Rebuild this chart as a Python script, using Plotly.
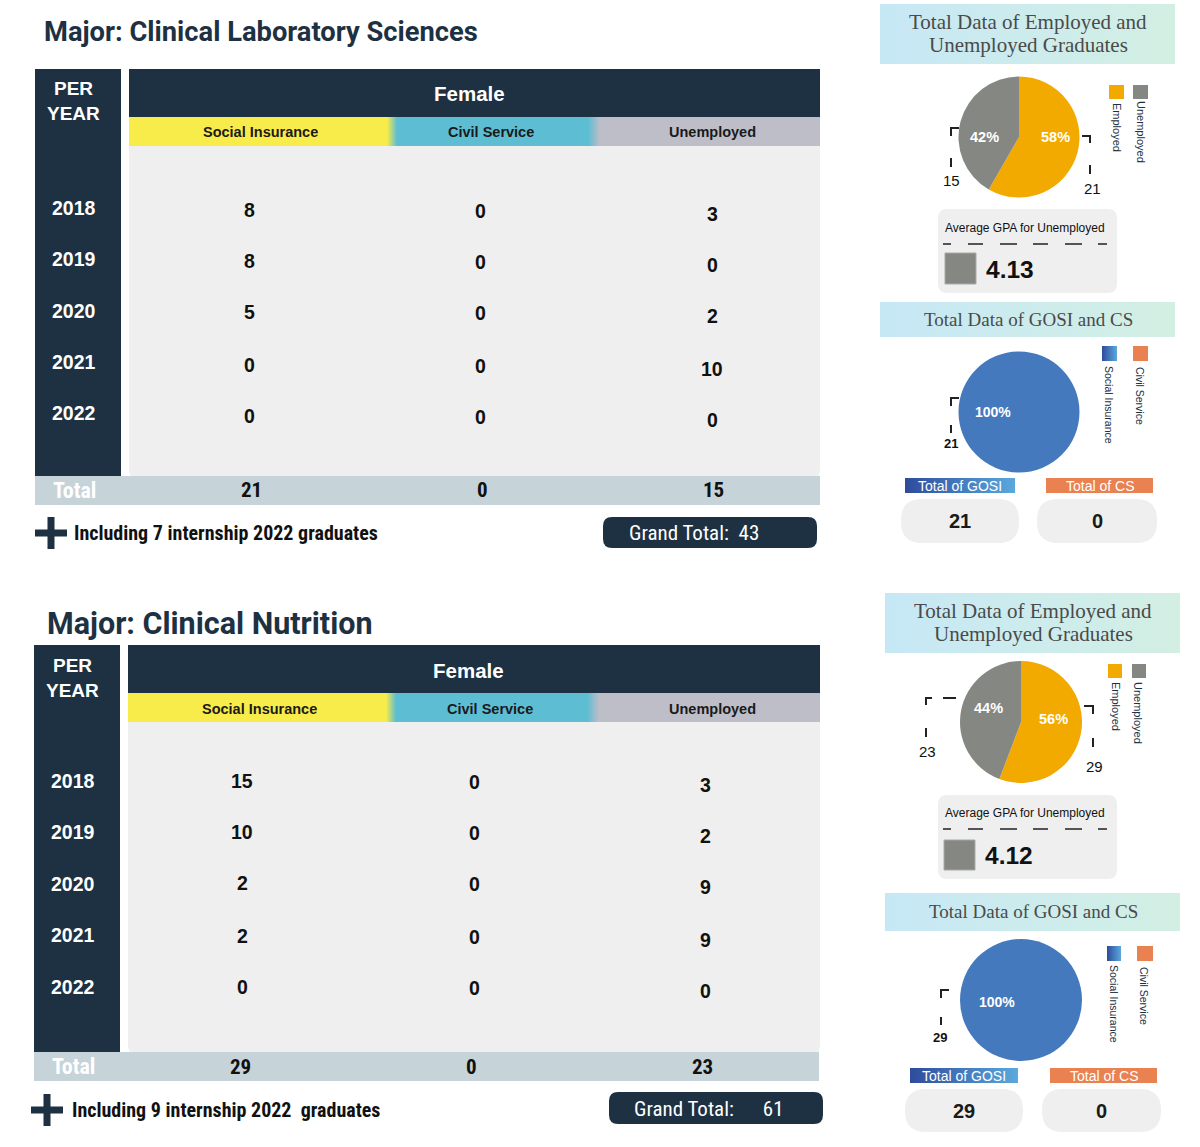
import plotly.graph_objects as go

W, H = 1200, 1147

# ---------------- data ----------------
majors = ["Clinical Laboratory Sciences", "Clinical Nutrition"]
years = ["2018", "2019", "2020", "2021", "2022"]
col_labels = ["Social Insurance", "Civil Service", "Unemployed"]
lab_social = [8, 8, 5, 0, 0]
lab_civil = [0, 0, 0, 0, 0]
lab_unemployed = [3, 0, 2, 10, 0]
nut_social = [15, 10, 2, 2, 0]
nut_civil = [0, 0, 0, 0, 0]
nut_unemployed = [3, 2, 9, 9, 0]
internship_2022 = [7, 9]
avg_gpa_unemployed = [4.13, 4.12]
emp_labels = ["Employed", "Unemployed"]
gosi_labels = ["Social Insurance", "Civil Service"]

# ---------------- styles ----------------
SANS = "Liberation Sans, Arial, sans-serif"
NARROW = "Liberation Sans Narrow, Arial Narrow, Roboto Condensed, sans-serif"
SERIF = "Liberation Serif, DejaVu Serif, serif"
TITLEF = "Roboto, Liberation Sans, sans-serif"
NAVY = "#1d3142"
BODY = "#efefef"
TOTROW = "#c6d3d8"
ORANGE = "#f2aa00"
GREY = "#858782"
BLUE_D, BLUE_L = "#2f4b9c", "#5aa9dd"
CSORANGE = "#ea8150"

shapes, anns, traces = [], [], []


def rr_path(x0, y0, x1, y1, r=0, top=True, bottom=True):
    rt = r if top else 0
    rb = r if bottom else 0
    return (f"M{x0+rt},{y0} L{x1-rt},{y0} Q{x1},{y0} {x1},{y0+rt} "
            f"L{x1},{y1-rb} Q{x1},{y1} {x1-rb},{y1} L{x0+rb},{y1} "
            f"Q{x0},{y1} {x0},{y1-rb} L{x0},{y0+rt} Q{x0},{y0} {x0+rt},{y0} Z")


def box(x0, y0, x1, y1, color, r=0, top=True, bottom=True, line=None):
    shapes.append(dict(type="path", xref="x", yref="y",
                       path=rr_path(x0, y0, x1, y1, r, top, bottom),
                       fillcolor=color, line=dict(width=1 if line else 0, color=line or color),
                       layer="below"))


def grad(x0, y0, x1, y1, scale):
    traces.append(go.Scatter(x=[x0, x1, x1, x0, x0], y=[y0, y0, y1, y1, y0],
                             mode="lines", fill="toself",
                             fillgradient=dict(type="horizontal", colorscale=scale),
                             line=dict(width=0, color="rgba(0,0,0,0)"),
                             hoverinfo="skip", showlegend=False))


def path_line(p, width=2, color="#222"):
    shapes.append(dict(type="path", xref="x", yref="y", path=p,
                       line=dict(width=width, color=color), layer="above"))


def txt(x, y, s, size, color="#111", family=SANS, bold=False, xanchor="center", angle=0):
    anns.append(dict(x=x, y=y, xref="x", yref="y", text=str(s), showarrow=False,
                     font=dict(size=size, color=color, family=family,
                               weight="bold" if bold else "normal"),
                     xanchor=xanchor, yanchor="middle", textangle=angle))


def pie_domain(cx, cy, r):
    return dict(x=[(cx - r) / W, (cx + r) / W], y=[1 - (cy + r) / H, 1 - (cy - r) / H])


# ---------------- geometry per section ----------------
G = [
    dict(title=(42, 32, 27.3), left=(35, 121, 69, 476), head=(129, 820, 69, 117), strip=(117, 146),
         body=(146, 476), per=(73, 88, 113), female=(469, 93), hdr_x=[260, 491, 712], hdr_y=132,
         val_x=[249, 480, 712], row_y=[211, 262, 313, 366, 417], col_dy=[-1.5, 0, 3], year_x=74,
         year_y=[208, 259, 311, 362, 413], trow=(35, 820, 476, 505), total_x=74, tval_x=[251, 482, 713],
         tval_y=490, plus=(51, 533), inc=(72, 533), gbox=(603, 517, 817, 548), gtext_x=694,
         gsep="  ",
         # right panel
         band1=(880, 4, 1175, 64), band1_t=(1028, 22, 45), pie1=(1019, 137, 60.5),
         pct_emp=(1055, 137), pct_un=(984, 137),
         lead_l="M959,128 L951,128 L951,136 M951,158 L951,167", lab_l=(951, 180),
         lead_r="M1082,136 L1090,136 L1090,143 M1090,165 L1090,174", lab_r=(1092, 188),
         leg1=((1109, 85, 1124, 99), (1133, 85, 1148, 99), (1117, 127), (1141, 132)),
         gpa=(938, 209, 1117, 293), gpa_t=(1025, 228), gpa_dash=244, gsq=(945, 253, 976, 284),
         gval=(984, 269),
         band2=(880, 302, 1175, 337), band2_t=(1028, 319), pie2=(1019, 412, 60.5), pct2=(993, 412),
         lead2="M959,398 L951,398 L951,406 M951,425 L951,433", lab2=(951, 443),
         leg2=((1102, 346, 1117, 361), (1133, 346, 1148, 361), (1109, 405), (1140, 396)),
         tg=(905, 478, 1015, 493), tc=(1046, 478, 1153, 493),
         rb1=(901, 499, 1019, 543), rb2=(1037, 499, 1157, 543)),
    dict(title=(45, 623, 30.5), left=(34, 120, 645, 1053), head=(128, 820, 645, 693), strip=(693, 722),
         body=(722, 1052), per=(72, 665, 690), female=(468, 670), hdr_x=[259, 490, 712], hdr_y=709,
         val_x=[242, 474, 705], row_y=[782, 833, 884, 937, 988], col_dy=[-1, 0, 3], year_x=73,
         year_y=[781, 832, 884, 935, 987], trow=(34, 819, 1052, 1081), total_x=73,
         tval_x=[240, 471, 702], tval_y=1067, plus=(47, 1110), inc=(70, 1110),
         gbox=(609, 1092, 823, 1124), gtext_x=709, gsep="      ",
         band1=(885, 593, 1180, 653), band1_t=(1033, 611, 634), pie1=(1021, 722, 61),
         pct_emp=(1053, 719), pct_un=(988, 708),
         lead_l="M932,698 L926,698 L926,705 M943,698 L956,698 M926,728 L926,737", lab_l=(927, 751),
         lead_r="M1084,706 L1093,706 L1093,714 M1093,738 L1093,747", lab_r=(1094, 766),
         leg1=((1108, 664, 1122, 678), (1132, 664, 1146, 678), (1116, 706), (1138, 713)),
         gpa=(938, 795, 1117, 879), gpa_t=(1025, 813), gpa_dash=829, gsq=(944, 840, 975, 870),
         gval=(983, 855),
         band2=(885, 893, 1180, 931), band2_t=(1033, 911), pie2=(1021, 1000, 61), pct2=(997, 1002),
         lead2="M949,990 L941,990 L941,998 M941,1017 L941,1025", lab2=(940, 1037),
         leg2=((1107, 946, 1121, 961), (1137, 946, 1153, 961), (1114, 1004), (1144, 996)),
         tg=(910, 1068, 1018, 1083), tc=(1050, 1068, 1157, 1083),
         rb1=(905, 1089, 1023, 1132), rb2=(1042, 1089, 1161, 1132)),
]

series = [(lab_social, lab_civil, lab_unemployed), (nut_social, nut_civil, nut_unemployed)]

for i, g in enumerate(G):
    cols = series[i]
    totals = [sum(c) for c in cols]
    employed = totals[0] + totals[1]
    unemployed = totals[2]
    grand = employed + unemployed + internship_2022[i]

    # ---- title
    txt(g["title"][0], g["title"][1], f"Major: {majors[i]}", g["title"][2], NAVY, TITLEF, True, "left")

    # ---- left year column
    lx0, lx1, ly0, ly1 = g["left"]
    box(lx0, ly0, lx1, ly1, NAVY)
    txt(g["per"][0], g["per"][1], "PER", 19, "white", SANS, True)
    txt(g["per"][0], g["per"][2], "YEAR", 19, "white", SANS, True)
    for y, yy in zip(years, g["year_y"]):
        txt(g["year_x"], yy, y, 19.5, "white", SANS, True)

    # ---- header
    hx0, hx1, hy0, hy1 = g["head"]
    box(hx0, hy0, hx1, hy1, NAVY)
    txt(g["female"][0], g["female"][1], "Female", 20.5, "white", SANS, True)
    sy0, sy1 = g["strip"]
    wS = hx1 - hx0
    f1 = (387 - 129) / wS
    f2 = (397 - 129) / wS
    f3 = (588 - 129) / wS
    f4 = (600 - 129) / wS
    grad(hx0, sy0, hx1, sy1, [[0, "#f8ec4a"], [f1, "#f8ec4a"], [f2, "#5dbdd3"],
                              [f3, "#5dbdd3"], [f4, "#bdbec8"], [1, "#bdbec8"]])
    for lab, x in zip(col_labels, g["hdr_x"]):
        txt(x, g["hdr_y"], lab, 14.5, "#1a1a1a", SANS, True)

    # ---- body
    by0, by1 = g["body"]
    box(hx0, by0, hx1, by1 + 6, BODY, r=14, top=False, bottom=True)
    for c, x, dy in zip(cols, g["val_x"], g["col_dy"]):
        for v, y in zip(c, g["row_y"]):
            txt(x, y + dy, v, 19.5, "#111", SANS, True)

    # ---- total row
    tx0, tx1, ty0, ty1 = g["trow"]
    box(tx0, ty0, tx1, ty1, TOTROW)
    txt(g["total_x"], (ty0 + ty1) / 2, "Total", 22, "white", NARROW, True)
    for v, x in zip(totals, g["tval_x"]):
        txt(x, g["tval_y"], v, 21, "#111", NARROW, True)

    # ---- plus + internship note
    px, py = g["plus"]
    box(px - 3.5, py - 16, px + 3.5, py + 16, NAVY)
    box(px - 16, py - 3.5, px + 16, py + 3.5, NAVY)
    txt(g["inc"][0], g["inc"][1],
        f"Including {internship_2022[i]} internship 2022 {' ' if i else ''}graduates",
        20, "#111", NARROW, True, "left")

    # ---- grand total
    gx0, gy0, gx1, gy1 = g["gbox"]
    box(gx0, gy0, gx1, gy1, NAVY, r=9)
    txt(g["gtext_x"], (gy0 + gy1) / 2 + 0.5, f"Grand Total:{g['gsep']}{grand}",
        21, "white", NARROW, False)

    # ================= right panel =================
    b = g["band1"]
    grad(b[0], b[1], b[2], b[3], [[0, "#c6e8f6"], [1, "#d3efe3"]])
    txt(g["band1_t"][0], g["band1_t"][1], "Total Data of Employed and", 21, "#4a4a4a", SERIF)
    txt(g["band1_t"][0], g["band1_t"][2], "Unemployed Graduates", 21, "#4a4a4a", SERIF)

    cx, cy, r = g["pie1"]
    traces.append(go.Pie(values=[employed, unemployed], labels=emp_labels, sort=False,
                         direction="clockwise", rotation=0, domain=pie_domain(cx, cy, r),
                         marker=dict(colors=[ORANGE, GREY], line=dict(width=0)),
                         textinfo="none", hoverinfo="label+value", showlegend=False))
    tot_eu = employed + unemployed
    txt(g["pct_emp"][0], g["pct_emp"][1], f"{round(100 * employed / tot_eu)}%", 14.5, "white", SANS, True)
    txt(g["pct_un"][0], g["pct_un"][1], f"{round(100 * unemployed / tot_eu)}%", 14.5, "white", SANS, True)
    path_line(g["lead_l"])
    path_line(g["lead_r"])
    txt(g["lab_l"][0], g["lab_l"][1], unemployed, 15, "#111", SANS)
    txt(g["lab_r"][0], g["lab_r"][1], employed, 15, "#111", SANS)

    sq1, sq2, t1, t2 = g["leg1"]
    box(*sq1, ORANGE)
    box(*sq2, GREY)
    txt(t1[0], t1[1], emp_labels[0], 11, NAVY, SANS, False, angle=90)
    txt(t2[0], t2[1], emp_labels[1], 11, NAVY, SANS, False, angle=90)

    # GPA box
    q = g["gpa"]
    box(*q, BODY, r=9)
    txt(g["gpa_t"][0], g["gpa_t"][1], "Average GPA for Unemployed", 12, "#111", SANS)
    dy = g["gpa_dash"]
    segs = [(943, 951), (968, 983), (1000, 1017), (1033, 1048), (1065, 1082), (1098, 1107)]
    path_line(" ".join(f"M{a},{dy} L{b_},{dy}" for a, b_ in segs), width=1.5, color="#222")
    box(*g["gsq"], GREY, line="#a9aaa6")
    txt(g["gval"][0], g["gval"][1], f"{avg_gpa_unemployed[i]:.2f}", 24.5, "#111", SANS, True, "left")

    # GOSI band
    b = g["band2"]
    grad(b[0], b[1], b[2], b[3], [[0, "#c6e8f6"], [1, "#d3efe3"]])
    txt(g["band2_t"][0], g["band2_t"][1], "Total Data of GOSI and CS", 19, "#4a4a4a", SERIF)

    cx, cy, r = g["pie2"]
    traces.append(go.Pie(values=[totals[0], totals[1]], labels=gosi_labels, sort=False,
                         direction="clockwise", rotation=0, domain=pie_domain(cx, cy, r),
                         marker=dict(colors=["#4579bd", CSORANGE], line=dict(width=0)),
                         textinfo="none", hoverinfo="label+value", showlegend=False))
    txt(g["pct2"][0], g["pct2"][1], f"{round(100 * totals[0] / (totals[0] + totals[1]))}%",
        14, "white", SANS, True)
    path_line(g["lead2"])
    txt(g["lab2"][0], g["lab2"][1], totals[0], 13, "#111", SANS, True)

    sq1, sq2, t1, t2 = g["leg2"]
    grad(sq1[0], sq1[1], sq1[2], sq1[3], [[0, BLUE_D], [1, BLUE_L]])
    box(*sq2, CSORANGE)
    txt(t1[0], t1[1], gosi_labels[0], 10.5, NAVY, SANS, False, angle=90)
    txt(t2[0], t2[1], gosi_labels[1], 10.5, NAVY, SANS, False, angle=90)

    q = g["tg"]
    grad(q[0], q[1], q[2], q[3], [[0, BLUE_D], [1, BLUE_L]])
    txt((q[0] + q[2]) / 2, (q[1] + q[3]) / 2, "Total of GOSI", 14, "white", SANS)
    q = g["tc"]
    box(*q, CSORANGE)
    txt((q[0] + q[2]) / 2, (q[1] + q[3]) / 2, "Total of CS", 14, "white", SANS)

    q = g["rb1"]
    box(*q, BODY, r=21)
    txt((q[0] + q[2]) / 2, (q[1] + q[3]) / 2, totals[0], 20, "#1a1a1a", SANS, True)
    q = g["rb2"]
    box(*q, BODY, r=21)
    txt((q[0] + q[2]) / 2, (q[1] + q[3]) / 2, totals[1], 20, "#1a1a1a", SANS, True)

fig = go.Figure(traces)
fig.update_layout(
    width=W, height=H, margin=dict(l=0, r=0, t=0, b=0),
    paper_bgcolor="white", plot_bgcolor="white",
    xaxis=dict(range=[0, W], visible=False, fixedrange=True, domain=[0, 1]),
    yaxis=dict(range=[H, 0], visible=False, fixedrange=True, domain=[0, 1]),
    shapes=shapes, annotations=anns, showlegend=False,
)
fig.write_html("out.html", config={"displayModeBar": False},
               post_script="document.body.style.margin='0px';")
